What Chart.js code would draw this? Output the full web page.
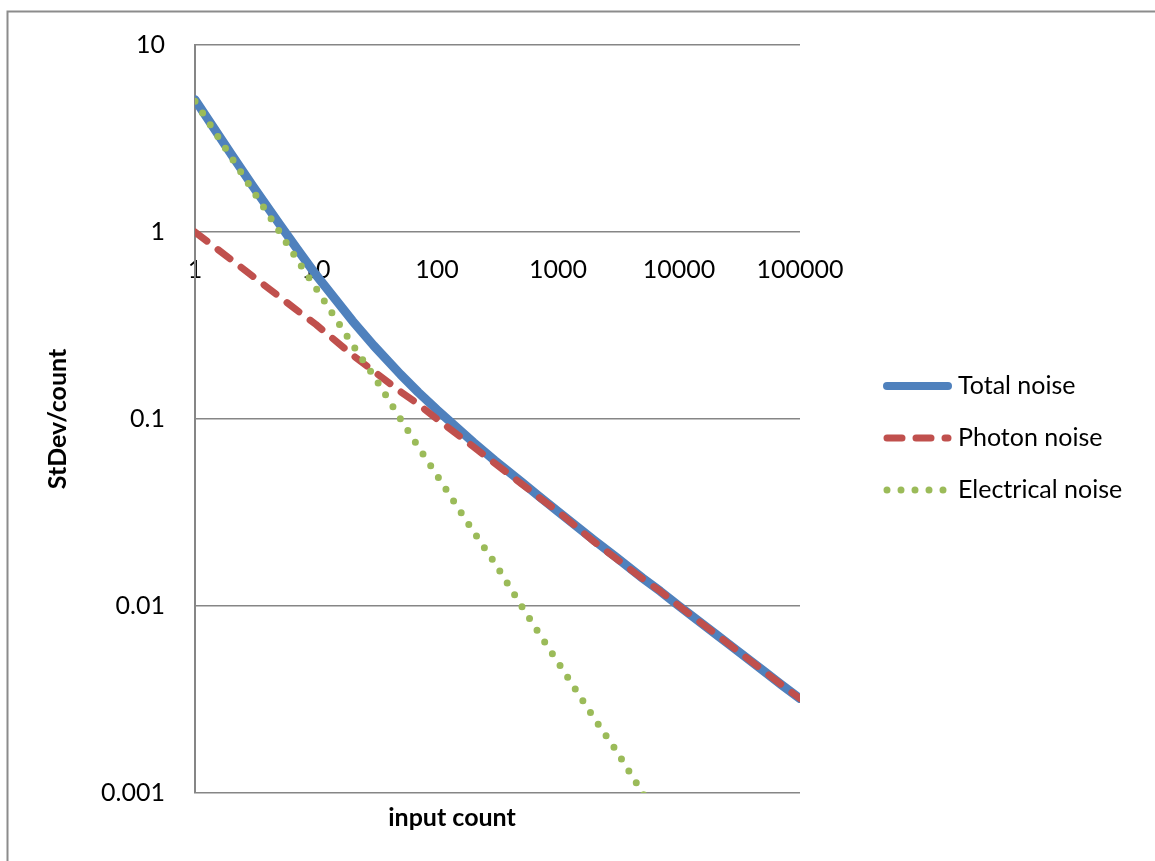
<!DOCTYPE html>
<html>
<head>
<meta charset="utf-8">
<title>Noise vs input count</title>
<script src="https://cdn.jsdelivr.net/npm/chart.js@4.4.1/dist/chart.umd.min.js"></script>
<style>
  html, body { margin: 0; padding: 0; background: #fff; }
  #wrap { width: 1155px; height: 861px; position: relative; }
</style>
</head>
<body>
<div id="wrap"><canvas id="noise"></canvas></div>
<script>
// input counts (x) and StDev/count for each noise source
const inputCount = [1, 2, 3, 5, 7, 10, 20, 30, 50, 70, 100, 200, 300, 500, 700,
  1000, 2000, 3000, 5000, 7000, 10000, 20000, 30000, 50000, 70000, 100000];
const totalNoise = [5.1, 2.6, 1.76, 1.1, 0.81, 0.59, 0.335, 0.247, 0.173, 0.139, 0.112,
  0.075, 0.06, 0.046, 0.0385, 0.032, 0.0224, 0.0183, 0.0141, 0.012, 0.01,
  0.0071, 0.0058, 0.0045, 0.0038, 0.0032];
const photonNoise = [1, 0.71, 0.58, 0.45, 0.38, 0.32, 0.22, 0.18, 0.14, 0.12, 0.1,
  0.071, 0.058, 0.045, 0.038, 0.032, 0.022, 0.018, 0.014, 0.012, 0.01,
  0.0071, 0.0058, 0.0045, 0.0038, 0.0032];
const electricalNoise = [5, 2.5, 1.67, 1, 0.71, 0.5, 0.25, 0.17, 0.1, 0.071, 0.05,
  0.025, 0.017, 0.01, 0.0071, 0.005, 0.0025, 0.0017, 0.001, 0.00071, 0.0005,
  0.00025, 0.00017, 0.0001, 0.000071, 0.00005];

const xTicks = [1, 10, 100, 1000, 10000, 100000];
const yTicks = [0.001, 0.01, 0.1, 1, 10];

const FONT = "Lato";
const GRID = "#868686";

function points(ys) {
  return inputCount.map(function (x, i) {
    return { x: x, y: ys[i] };
  });
}

// outer frame, x title and legend drawn straight on the canvas
const decorations = {
  id: "decorations",
  beforeDraw(chart) {
    const ctx = chart.ctx;
    ctx.save();
    ctx.strokeStyle = "#8c8c8c";
    ctx.lineWidth = 2;
    ctx.beginPath();
    ctx.moveTo(7.5, 880);
    ctx.lineTo(7.5, 11.5);
    ctx.lineTo(1170, 11.5);
    ctx.stroke();
    ctx.restore();
  },
  afterDraw(chart) {
    const ctx = chart.ctx;
    ctx.save();
    ctx.fillStyle = "#000";
    ctx.textBaseline = "middle";
    ctx.textAlign = "center";
    ctx.font = "bold 25px " + FONT;
    ctx.fillText("input count", 452, 818);

    ctx.textAlign = "left";
    ctx.font = "25px " + FONT;
    const rows = [386, 438, 490];
    chart.data.datasets.forEach(function (ds, i) {
      const y = rows[i];
      ctx.strokeStyle = ds.borderColor;
      ctx.lineWidth = ds.legendWidth || ds.borderWidth;
      ctx.lineCap = ds.borderCapStyle || "butt";
      ctx.setLineDash(ds.borderDash || []);
      ctx.beginPath();
      ctx.moveTo(887, y);
      ctx.lineTo(948, y);
      ctx.stroke();
      ctx.fillText(ds.label, 958, y);
    });
    ctx.restore();
  },
};

Chart.defaults.font.family = FONT;
Chart.defaults.font.size = 25;
Chart.defaults.color = "#000";

new Chart(document.getElementById("noise"), {
  type: "line",
  data: {
    datasets: [
      {
        label: "Total noise",
        data: points(totalNoise),
        borderColor: "#4f81bd",
        borderWidth: 9,
        legendWidth: 8,
        borderCapStyle: "round",
        borderJoinStyle: "round",
        pointRadius: 0,
        order: 3,
      },
      {
        label: "Photon noise",
        data: points(photonNoise),
        borderColor: "#c0504d",
        borderWidth: 7,
        borderDash: [15, 14],
        borderCapStyle: "round",
        borderJoinStyle: "round",
        pointRadius: 0,
        order: 2,
      },
      {
        label: "Electrical noise",
        data: points(electricalNoise),
        borderColor: "#9bbb59",
        borderWidth: 7,
        borderDash: [0, 14],
        borderCapStyle: "round",
        pointRadius: 0,
        order: 1,
      },
    ],
  },
  options: {
    responsive: true,
    maintainAspectRatio: false,
    animation: false,
    events: [],
    layout: {
      padding: { left: 39, top: 42, right: 355, bottom: 68 },
    },
    plugins: {
      legend: { display: false },
      tooltip: { enabled: false },
    },
    scales: {
      x: {
        type: "logarithmic",
        min: 1,
        max: 100000,
        position: { y: 1 },
        afterBuildTicks: function (scale) {
          scale.ticks = xTicks.map(function (v) { return { value: v }; });
        },
        afterFit: function (scale) {
          scale.height = 0;
        },
        ticks: {
          padding: 23,
          maxRotation: 0,
          autoSkip: false,
          callback: function (v) { return String(v); },
        },
        grid: { display: false, drawTicks: false },
        border: { display: false },
      },
      y: {
        type: "logarithmic",
        min: 0.001,
        max: 10,
        afterBuildTicks: function (scale) {
          scale.ticks = yTicks.map(function (v) { return { value: v }; });
        },
        afterFit: function (scale) {
          scale.width = 195 - 39;
        },
        ticks: {
          padding: 30,
          autoSkip: false,
          callback: function (v) { return String(v); },
        },
        grid: { color: GRID, lineWidth: 1.5, drawTicks: false },
        border: { display: true, color: GRID, width: 2 },
        title: {
          display: true,
          text: "StDev/count",
          font: { weight: "bold", size: 25 },
          padding: { top: 4, bottom: 4 },
        },
      },
    },
  },
  plugins: [decorations],
});
</script>
</body>
</html>
